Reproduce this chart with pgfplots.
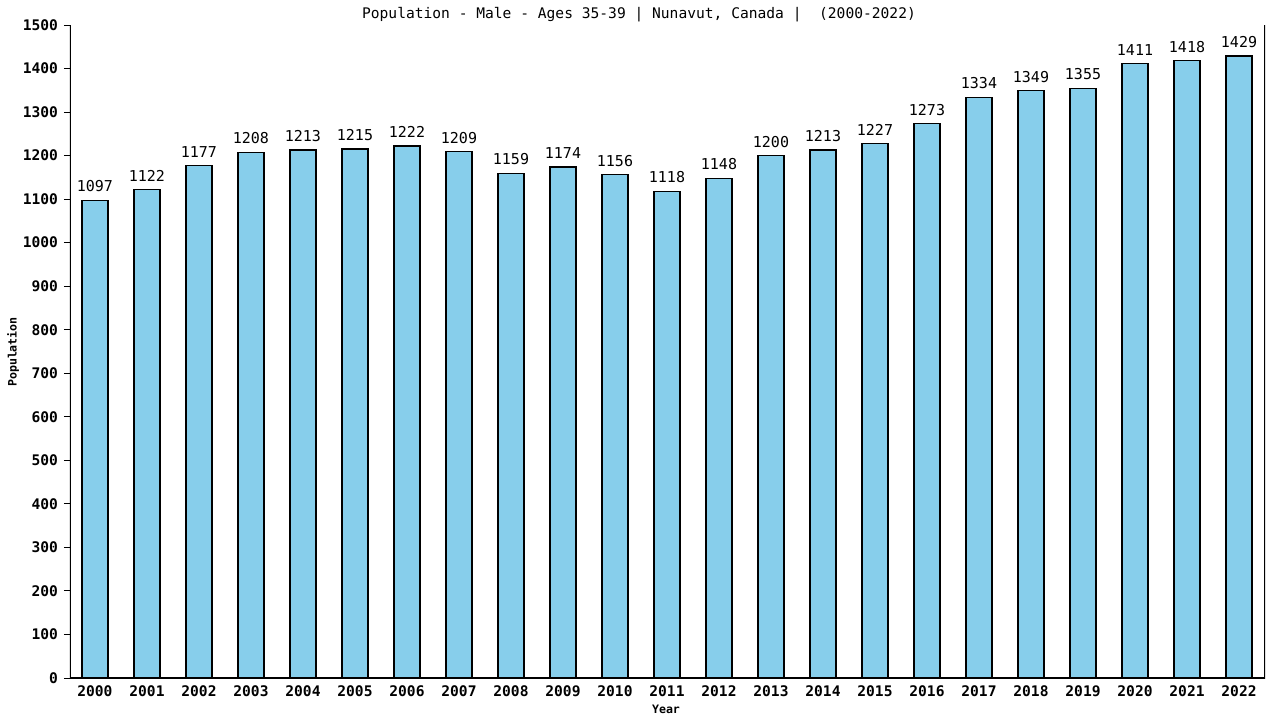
\documentclass[border=0pt]{standalone}
\usepackage{fontspec}
\setmainfont{DejaVu Sans Mono}
\usepackage{pgfplots}
\pgfplotsset{compat=1.18}
\definecolor{barblue}{RGB}{135,206,235}

\begin{document}
\begin{tikzpicture}
\path[use as bounding box] (0,0) rectangle (640pt,360pt);
\begin{axis}[
    at={(35pt,21pt)}, anchor=south west,
    scale only axis,
    width=597.5pt, height=326.5pt,
    ybar, bar width=13pt,
    xmin=-0.48, xmax=22.5,
    ymin=0, ymax=1500,
    ytick={0,100,...,1500},
    xtick=data,
    xticklabels={2000,2001,2002,2003,2004,2005,2006,2007,2008,2009,2010,2011,2012,2013,2014,2015,2016,2017,2018,2019,2020,2021,2022},
    axis line style={draw=none},
    ytick pos=left, tick align=outside,
    major tick length=3pt,
    every tick/.style={black, line width=0.5pt},
    x tick style={draw=none},
    /pgf/number format/assume math mode=true,
    /pgf/number format/1000 sep={},
    tick label style={font=\fontsize{7.3}{8}\selectfont\bfseries},
    yticklabel style={xshift=0.5pt},
    xticklabel style={yshift=2.5pt},
    nodes near coords,
    nodes near coords style={font=\fontsize{7.5}{8}\selectfont, /pgf/number format/1000 sep={}, yshift=0.5pt},
  ]
  \addplot[fill=barblue, draw=black, line width=0.6pt] coordinates {
    (0,1097) (1,1122) (2,1177) (3,1208) (4,1213) (5,1215) (6,1222) (7,1209)
    (8,1159) (9,1174) (10,1156) (11,1118) (12,1148) (13,1200) (14,1213)
    (15,1227) (16,1273) (17,1334) (18,1349) (19,1355) (20,1411) (21,1418) (22,1429)
  };
  \draw[line width=0.6pt] (rel axis cs:0,1) -- (rel axis cs:0,0) -- (rel axis cs:1,0) -- (rel axis cs:1,1);
\end{axis}
\node[font=\fontsize{7.3}{8}\selectfont] at (319.5pt,352.5pt) {Population - Male - Ages 35-39 | Nunavut, Canada |~ (2000-2022)};
\node[font=\fontsize{5.8}{7}\selectfont\bfseries] at (333pt,5.5pt) {Year};
\node[font=\fontsize{5.8}{7}\selectfont\bfseries, rotate=90] at (6.5pt,184pt) {Population};
\end{tikzpicture}
\end{document}
